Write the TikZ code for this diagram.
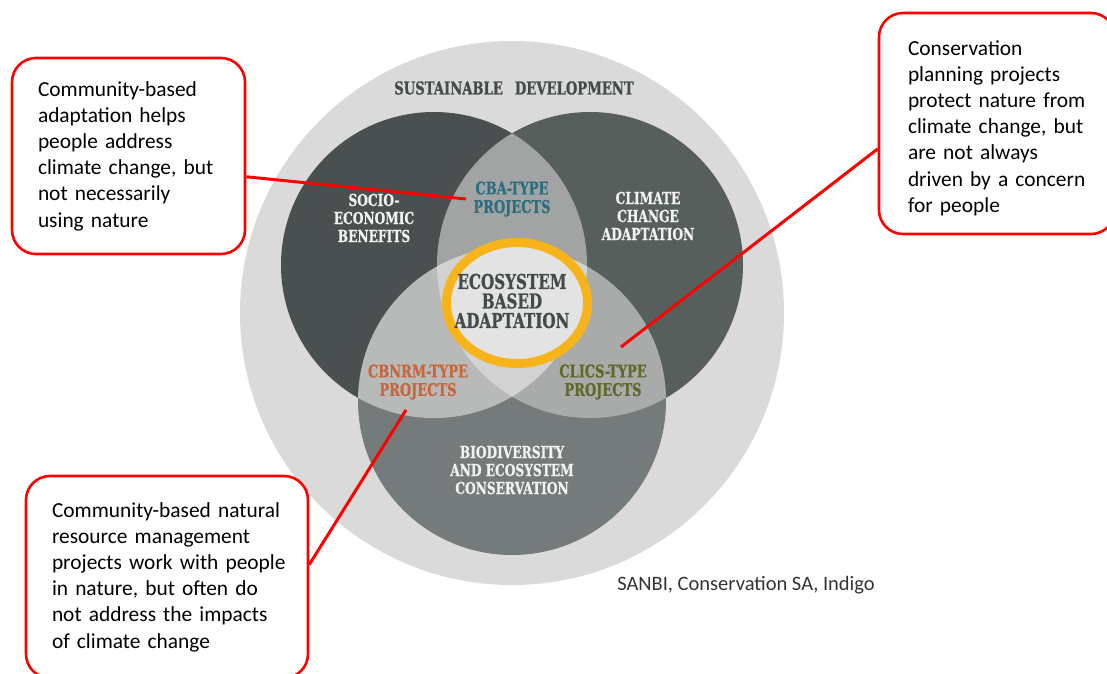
\documentclass[tikz,border=0pt]{standalone}
\usepackage{fontspec}
\setmainfont{Carlito}
\newfontfamily\slabfont{DejaVu Serif}[FakeStretch=0.74, BoldFeatures={FakeBold=0.6}]
\definecolor{bigc}{HTML}{DADADA}
\definecolor{leftc}{HTML}{4A504F}
\definecolor{rightc}{HTML}{575F5D}
\definecolor{botc}{HTML}{747B7A}
\definecolor{lensA}{HTML}{A2A4A4}
\definecolor{lensB}{HTML}{B8B9B9}
\definecolor{lensC}{HTML}{A9ABAB}
\definecolor{midc}{HTML}{D2D2D2}
\definecolor{ringin}{HTML}{E3E3E3}
\definecolor{ringc}{HTML}{F7B41A}
\definecolor{calred}{HTML}{FF0000}
\definecolor{labw}{HTML}{F2F2F2}
\definecolor{labd}{HTML}{444C4B}
\definecolor{teal}{HTML}{2B6E80}
\definecolor{rust}{HTML}{C8663B}
\definecolor{olive}{HTML}{5F6A2A}
\definecolor{srcc}{HTML}{333333}
\begin{document}
\begin{tikzpicture}[x=1pt,y=-1pt,
  callout/.style={draw=calred, line width=2.6pt, fill=white, rounded corners=24pt,
    align=left, inner ysep=4pt, font=\fontsize{21.4}{26.2}\selectfont},
  conn/.style={draw=calred, line width=3pt},
  slab/.style={font=\slabfont\bfseries\fontsize{16.5}{18}\selectfont, align=center, inner sep=0pt},
  wlab/.style={slab, text=labw},
  reglab/.style={slab, font=\slabfont\bfseries\fontsize{17.5}{18.5}\selectfont}]
\useasboundingbox (0,0) rectangle (1107,673);
\clip (0,0) rectangle (1107,673);
% circles
\fill[bigc] (512,313) circle[radius=272pt];
\fill[leftc] (434,265) circle[radius=153pt];
\fill[rightc] (590,265) circle[radius=153pt];
\fill[botc] (512,401) circle[radius=154pt];
\begin{scope}
  \clip (434,265) circle[radius=153pt];
  \fill[lensA] (590,265) circle[radius=153pt];
  \fill[lensB] (512,401) circle[radius=154pt];
\end{scope}
\begin{scope}
  \clip (590,265) circle[radius=153pt];
  \fill[lensC] (512,401) circle[radius=154pt];
\end{scope}
\begin{scope}
  \clip (434,265) circle[radius=153pt];
  \clip (590,265) circle[radius=153pt];
  \fill[midc] (512,401) circle[radius=154pt];
\end{scope}
\draw[ringc, line width=9pt, fill=ringin] (517,303) ellipse[x radius=70.5pt, y radius=60.5pt];
% labels
\node[slab, text=labd, font=\slabfont\bfseries\fontsize{17.8}{19}\selectfont] (sd) at (514,88) {SUSTAINABLE\hspace{12pt}DEVELOPMENT};
\node[wlab] (seb) at (374,218) {SOCIO-\\ECONOMIC\\BENEFITS};
\node[wlab] (cca) at (648,216) {CLIMATE\\CHANGE\\ADAPTATION};
\node[wlab] (bec) at (512,470) {BIODIVERSITY\\AND ECOSYSTEM\\CONSERVATION};
\node[reglab, text=teal] (cba) at (512,199) {CBA-TYPE\\PROJECTS};
\node[reglab, text=rust] (cbnrm) at (418,382) {CBNRM-TYPE\\PROJECTS};
\node[reglab, text=olive] (clics) at (603,382) {CLICS-TYPE\\PROJECTS};
\node[slab, text=labd, font=\slabfont\bfseries\fontsize{20.5}{19.5}\selectfont] (eba) at (512,301) {ECOSYSTEM\\BASED\\ADAPTATION};
\node[text=srcc, font=\fontsize{20.5}{24}\selectfont, inner sep=0pt] (src) at (746,585) {SANBI, Conservation SA, Indigo};
% connector ends
\coordinate (pCBA) at (466,199);
\coordinate (pCLICS) at (621,347);
\coordinate (pCBNRM) at (406,410);
% callouts
\node[callout, minimum width=233pt, minimum height=196pt, inner xsep=26pt, text width=181pt] (b1) at (128.5,156)
  {Community-based\\adaptation helps\\people address\\climate change, but\\not necessarily\\using nature};
\node[callout, minimum width=236pt, minimum height=221pt, inner xsep=29pt, text width=178pt] (b2) at (997,123.5)
  {\rule{0pt}{24pt}Conservation\\planning projects\\protect nature from\\climate change, but\\are not always\\driven by a concern\\for people};
\node[callout, minimum width=282pt, minimum height=202pt, inner xsep=26pt, text width=230pt] (b3) at (167,577)
  {Community-based natural\\resource management\\\mbox{projects work with people}\\in nature, but often do\\not address the impacts\\of climate change};
\draw[conn] (b1.-10.5) -- (pCBA);
\draw[conn] (b2.192.2) -- (pCLICS);
\draw[conn] (b3.5.6) -- (pCBNRM);
\end{tikzpicture}
\end{document}
